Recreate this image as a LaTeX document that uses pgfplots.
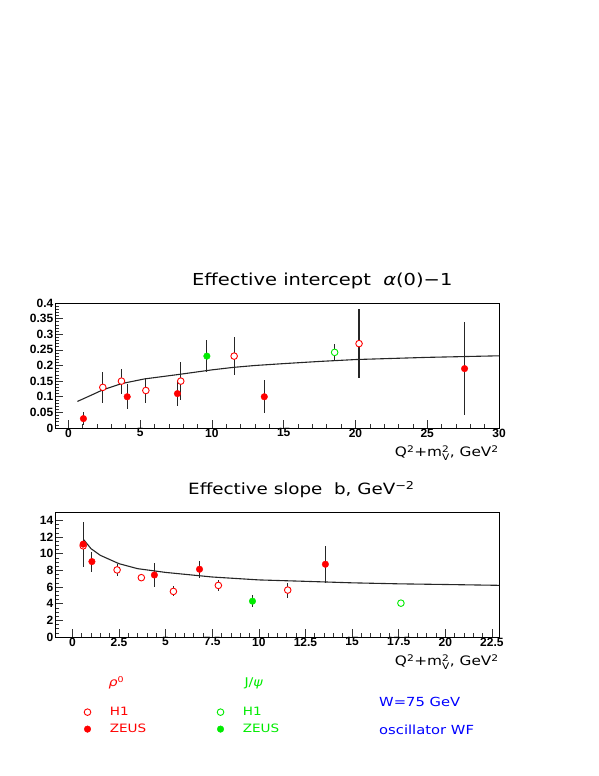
\documentclass[border=0pt]{standalone}
\usepackage{fontspec}
\setmainfont{DejaVu Sans}[FakeStretch=1.18]
\newfontfamily\tickfont{Liberation Sans}
\usepackage{pgfplots}
\pgfplotsset{compat=1.18}

\definecolor{rred}{RGB}{255,0,0}
\definecolor{rgreen}{RGB}{0,235,0}
\definecolor{rblue}{RGB}{0,0,255}

\pgfplotsset{
  rootaxis/.style={
    scale only axis, width=444pt, height=125pt,
    axis line style={black, line width=0.9pt},
    tick align=inside, xtick pos=bottom, ytick pos=left,
    major tick length=8pt, minor tick length=4pt,
    every tick/.style={black!80, line width=0.6pt},
    tick label style={font=\tickfont\bfseries\fontsize{12}{14}\selectfont, inner sep=1.5pt},
    xticklabel style={yshift=1pt},
    /pgf/number format/assume math mode=true,
    title style={anchor=base, yshift=11pt},
    xlabel style={font=\fontsize{13}{15}\selectfont, at={(axis description cs:1,0)}, anchor=base east, yshift=-29pt, inner sep=0pt},
    clip=false,
  },
  ebar/.style={error bars/y dir=both, error bars/y explicit, error bars/error mark=none,
    error bars/error bar style={black!85, line width=1.1pt}},
  h1/.style={only marks, mark=*, mark size=3.3pt, mark options={draw=#1, fill=white, line width=0.9pt}},
  zeus/.style={only marks, mark=*, mark size=3.3pt, mark options={draw=#1, fill=#1}},
}

\newcommand{\qlab}{Q\textsuperscript{2}+m$_{\mbox{\fontsize{9}{9}\selectfont V}}^{\mbox{\fontsize{9}{9}\selectfont 2}}$, GeV\textsuperscript{2}}

\begin{document}
\begin{tikzpicture}[x=1pt,y=1pt]
\path[use as bounding box] (0,0) rectangle (599,776);

% upper panel: effective intercept
\begin{axis}[rootaxis, at={(55pt,348pt)}, anchor=south west,
  xmin=-0.93, xmax=30, ymin=0, ymax=0.4,
  xtick={0,5,...,30}, minor x tick num=4,
  ytick={0,0.05,...,0.41}, minor y tick num=4,
  yticklabel style={/pgf/number format/fixed, /pgf/number format/precision=2},
  title={Effective intercept \ {\itshape α}(0)−1},
  title style={at={(axis description cs:0.602,1)}, font=\fontsize{16.5}{18}\selectfont},
  xlabel={\qlab},
]
\addplot[black!85, line width=1.1pt] coordinates {
 (0.63,0.085) (1.5,0.103) (2.4,0.122) (3.7,0.142) (5.3,0.157) (7.8,0.172)
 (10,0.186) (11.5,0.194) (13,0.200) (15,0.206) (17.5,0.213) (20,0.219)
 (25,0.226) (30,0.231)};
% rho0 H1
\addplot[h1=rred, ebar] table[y error=e] {
x y e
2.40 0.130 0.050
3.70 0.150 0.040
5.40 0.120 0.040
7.83 0.150 0.060
11.55 0.230 0.060
20.25 0.270 0.110
};
% rho0 ZEUS
\addplot[zeus=rred, ebar] table[y error=e] {
x y e
1.05 0.030 0.020
4.10 0.100 0.040
7.60 0.110 0.040
13.65 0.100 0.052
27.60 0.190 0.150
};
% J/psi H1
\addplot[h1=rgreen, ebar] table[y error=e] {
x y e
18.55 0.242 0.028
};
% J/psi ZEUS
\addplot[zeus=rgreen, ebar] table[y error=e] {
x y e
9.65 0.230 0.050
};
\end{axis}

% lower panel: effective slope
\begin{axis}[rootaxis, at={(55pt,139pt)}, anchor=south west,
  xmin=-0.93, xmax=22.88, ymin=0, ymax=15,
  xtick={0,2.5,...,22.5}, minor x tick num=4,
  ytick={0,2,...,14}, minor y tick num=3,
  title={Effective slope \ b, GeV\textsuperscript{−2}},
  title style={at={(axis description cs:0.555,1)}, font=\fontsize{15.5}{17}\selectfont},
  xlabel={\qlab},
  legend columns=2,
  legend style={draw=none, fill=none, at={(axis description cs:0.0586,-0.528)}, anchor=north west,
    font=\fontsize{11.5}{14}\selectfont, row sep=3pt,
    /tikz/every odd column/.append style={column sep=17pt},
    /tikz/every even column/.append style={column sep=69pt}},
  legend cell align=left,
]
\addplot[black!85, line width=1.1pt, forget plot] coordinates {
 (0.6,11.7) (1,10.6) (1.5,9.8) (2.5,8.8) (3.5,8.2) (5,7.75) (7.5,7.2)
 (10,6.85) (12.5,6.68) (15,6.5) (17.5,6.38) (20,6.3) (22.88,6.2)};
% rho0 H1
\addplot[forget plot, h1=rred, ebar] table[y error=e] {
x y e
0.58 10.94 2.60
2.40 8.05 0.70
3.70 7.12 0.30
5.42 5.47 0.60
7.83 6.19 0.70
11.55 5.63 0.90
};
% rho0 ZEUS
\addplot[forget plot, zeus=rred, ebar] table[y error=e] {
x y e
0.58 11.14 2.60
1.05 9.05 1.20
4.40 7.44 1.40
6.82 8.13 1.00
13.57 8.73 2.20
};
% J/psi H1
\addplot[forget plot, h1=rgreen, ebar] table[y error=e] {
x y e
17.62 4.06 0.20
};
% J/psi ZEUS
\addplot[forget plot, zeus=rgreen, ebar] table[y error=e] {
x y e
9.66 4.30 0.75
};
\addlegendimage{h1=rred}
\addlegendentry{\textcolor{rred}{H1}}
\addlegendimage{h1=rgreen}
\addlegendentry{\textcolor{rgreen}{H1}}
\addlegendimage{zeus=rred}
\addlegendentry{\textcolor{rred}{ZEUS}}
\addlegendimage{zeus=rgreen}
\addlegendentry{\textcolor{rgreen}{ZEUS}}
\end{axis}

\node[anchor=west, rred, font=\fontsize{12}{14}\selectfont] at (105,93) {{\itshape ρ}\textsuperscript{0}};
\node[anchor=west, rgreen, font=\fontsize{12}{14}\selectfont] at (241,93) {J/{\itshape ψ}};
\node[anchor=west, rblue, font=\fontsize{12.5}{15}\selectfont, inner sep=0pt] at (379,74) {W=75 GeV};
\node[anchor=west, rblue, font=\fontsize{12.5}{15}\selectfont, inner sep=0pt] at (379,46) {oscillator WF};
\end{tikzpicture}
\end{document}
